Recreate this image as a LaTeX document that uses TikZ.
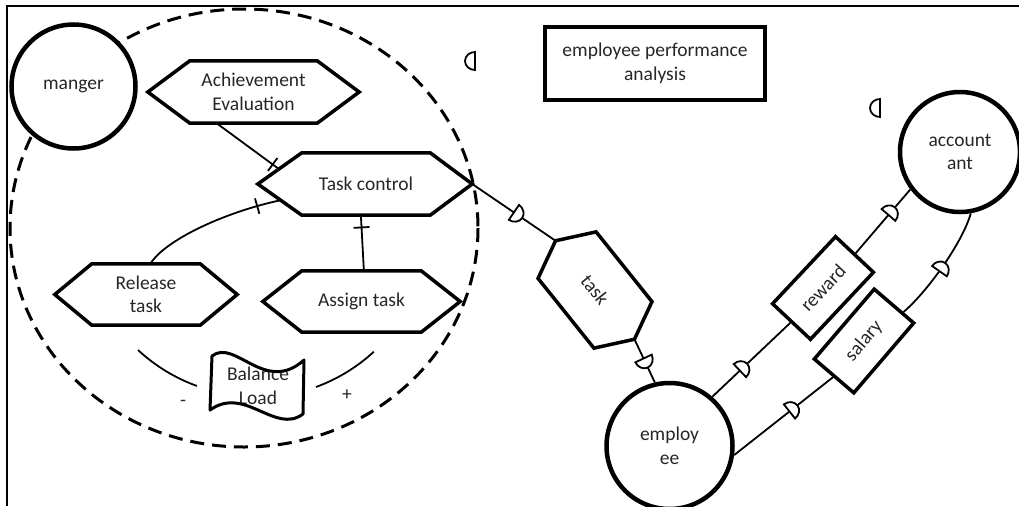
\documentclass[tikz,border=0pt]{standalone}
\usepackage{fontspec}
\setmainfont{Carlito}
\usetikzlibrary{calc}

% hexagon outline around a rectangular core node: name, left indent, right indent
\newcommand\hexframe[3]{%
  \draw[hexline] (#1.north west) -- (#1.north east)
    -- ($(#1.east)!-#3!(#1.west)$) coordinate (#1-r)
    -- (#1.south east) -- (#1.south west)
    -- ($(#1.west)!-#2!(#1.east)$) coordinate (#1-l) -- cycle;}

\tikzset{
  every node/.style={font=\fontsize{19.5}{23.5}\selectfont, text=black!85},
  actor/.style={circle, draw, line width=4.5pt, fill=white, align=center, inner sep=0pt},
  hexcore/.style={rectangle, inner sep=0pt, align=center},
  hexline/.style={line width=3.5pt, line join=miter},
  boxnode/.style={rectangle, draw, line width=3.5pt, inner sep=0pt, align=center},
  conn/.style={line width=1.8pt},
  plugfwd/.pic={\draw[line width=1.8pt, fill=white] (-5pt,-9pt) -- (-5pt,9pt)
      arc[start angle=90, end angle=-90, x radius=10pt, y radius=9pt] -- cycle;},
  plugback/.pic={\draw[line width=1.8pt, fill=white] (5pt,9pt) -- (5pt,-9pt)
      arc[start angle=-90, end angle=-270, x radius=10pt, y radius=9pt] -- cycle;},
  tickbar/.pic={\draw[line width=1.8pt] (0pt,-8pt) -- (0pt,8pt);},
  onpath/.style={sloped, allow upside down},
}

\begin{document}
\begin{tikzpicture}[x=1pt, y=-1pt]
\useasboundingbox (0,0) rectangle (1019,506);

% page frame
\draw[line width=2.5pt] (7,506) -- (7,6) -- (1019,6);

% boundary of the manager's scope
\draw[line width=3pt, dash pattern=on 14pt off 8pt] (244,228) ellipse[x radius=234, y radius=219];

% actors
\node[actor, minimum size=124pt] (mgr) at (73.5,86.5) {manger};
\node[actor, minimum size=120pt] (acc) at (960,152) {account\\ant};
\node[actor, minimum size=126pt] (emp) at (669.5,446) {employ\\ee};

% activities
\node[hexcore, minimum width=127pt, minimum height=62pt] (ach) at (253.5,92) {Achievement\\Evaluation};
\hexframe{ach}{42pt}{42pt}
\node[hexcore, minimum width=128pt, minimum height=62pt] (tc) at (366,184) {Task control};
\hexframe{tc}{44pt}{42pt}
\node[hexcore, minimum width=108pt, minimum height=61pt] (rel) at (146,294.5) {Release\\task};
\hexframe{rel}{37pt}{37pt}
\node[hexcore, minimum width=119pt, minimum height=61pt] (asg) at (361.5,301.5) {Assign task};
\hexframe{asg}{39pt}{39pt}
\node[hexcore, minimum width=89pt, minimum height=74pt, rotate=-51.3] (task) at (595,290) {task};
\hexframe{task}{18.4pt}{18.4pt}

% exchanged items
\node[boxnode, minimum width=92pt, minimum height=52pt, rotate=46.8] (rew) at (823,288) {reward};
\node[boxnode, minimum width=92pt, minimum height=52pt, rotate=49.4] (sal) at (864,341) {salary};
\node[boxnode, minimum width=220pt, minimum height=73pt] (epa) at (655,63.5) {employee performance\\analysis};

% balance load flag
\node[align=center] (bal) at (258,386) {Balance\\Load};
\draw[line width=3pt, line join=round] (212,356) .. controls (235,338) and (265,395) .. (304,360)
  -- (303,414) .. controls (275,435) and (245,385) .. (210,410) -- cycle;
\node (minus) at (183,403) {-};
\node (plus) at (347,395) {+};

% balance arcs
\draw[conn] (138,350) arc[start angle=132.9, end angle=109.9, radius=173];
\draw[conn] (316,387) arc[start angle=69.9, end angle=47.3, radius=173];

% internal links of task control
\draw[conn] ($(ach.south west)!0.21!(ach.south east)$) -- ($(tc-l)!0.48!(tc.north west)$)
  pic[pos=0.9, onpath]{tickbar};
\draw[conn] ($(rel.north west)!0.54!(rel.north east)$) .. controls (165,240) and (225,212) .. ($(tc-l)!0.52!(tc.south west)$)
  pic[pos=0.86, onpath]{tickbar};
\draw[conn] ($(tc.south west)!0.46!(tc.south east)$) -- ($(asg.north west)!0.52!(asg.north east)$)
  pic[pos=0.22, onpath]{tickbar};

% flows between actors
\draw[conn] (tc-r) -- (task-l) pic[pos=0.55, onpath]{plugfwd};
\draw[conn] (task-r) -- (emp.103) pic[pos=0.55, onpath]{plugfwd};
\draw[conn] (emp.49) -- (rew.west) pic[pos=0.4, onpath]{plugfwd};
\draw[conn] (rew.east) -- (acc.217) pic[pos=0.66, onpath]{plugfwd};
\draw[conn] (emp.-8) -- (sal.west) pic[pos=0.6, onpath]{plugfwd};
\coordinate (sal-e) at ($(sal.north east)!0.7!(sal.south east)$);
\draw[conn] (sal-e) .. controls (926,293) and (962,244) .. (acc.280.6) pic[pos=0.5, onpath]{plugfwd};

% loose connector ends
\pic at (470,61) {plugback};
\pic at (875,108) {plugback};
\end{tikzpicture}
\end{document}
